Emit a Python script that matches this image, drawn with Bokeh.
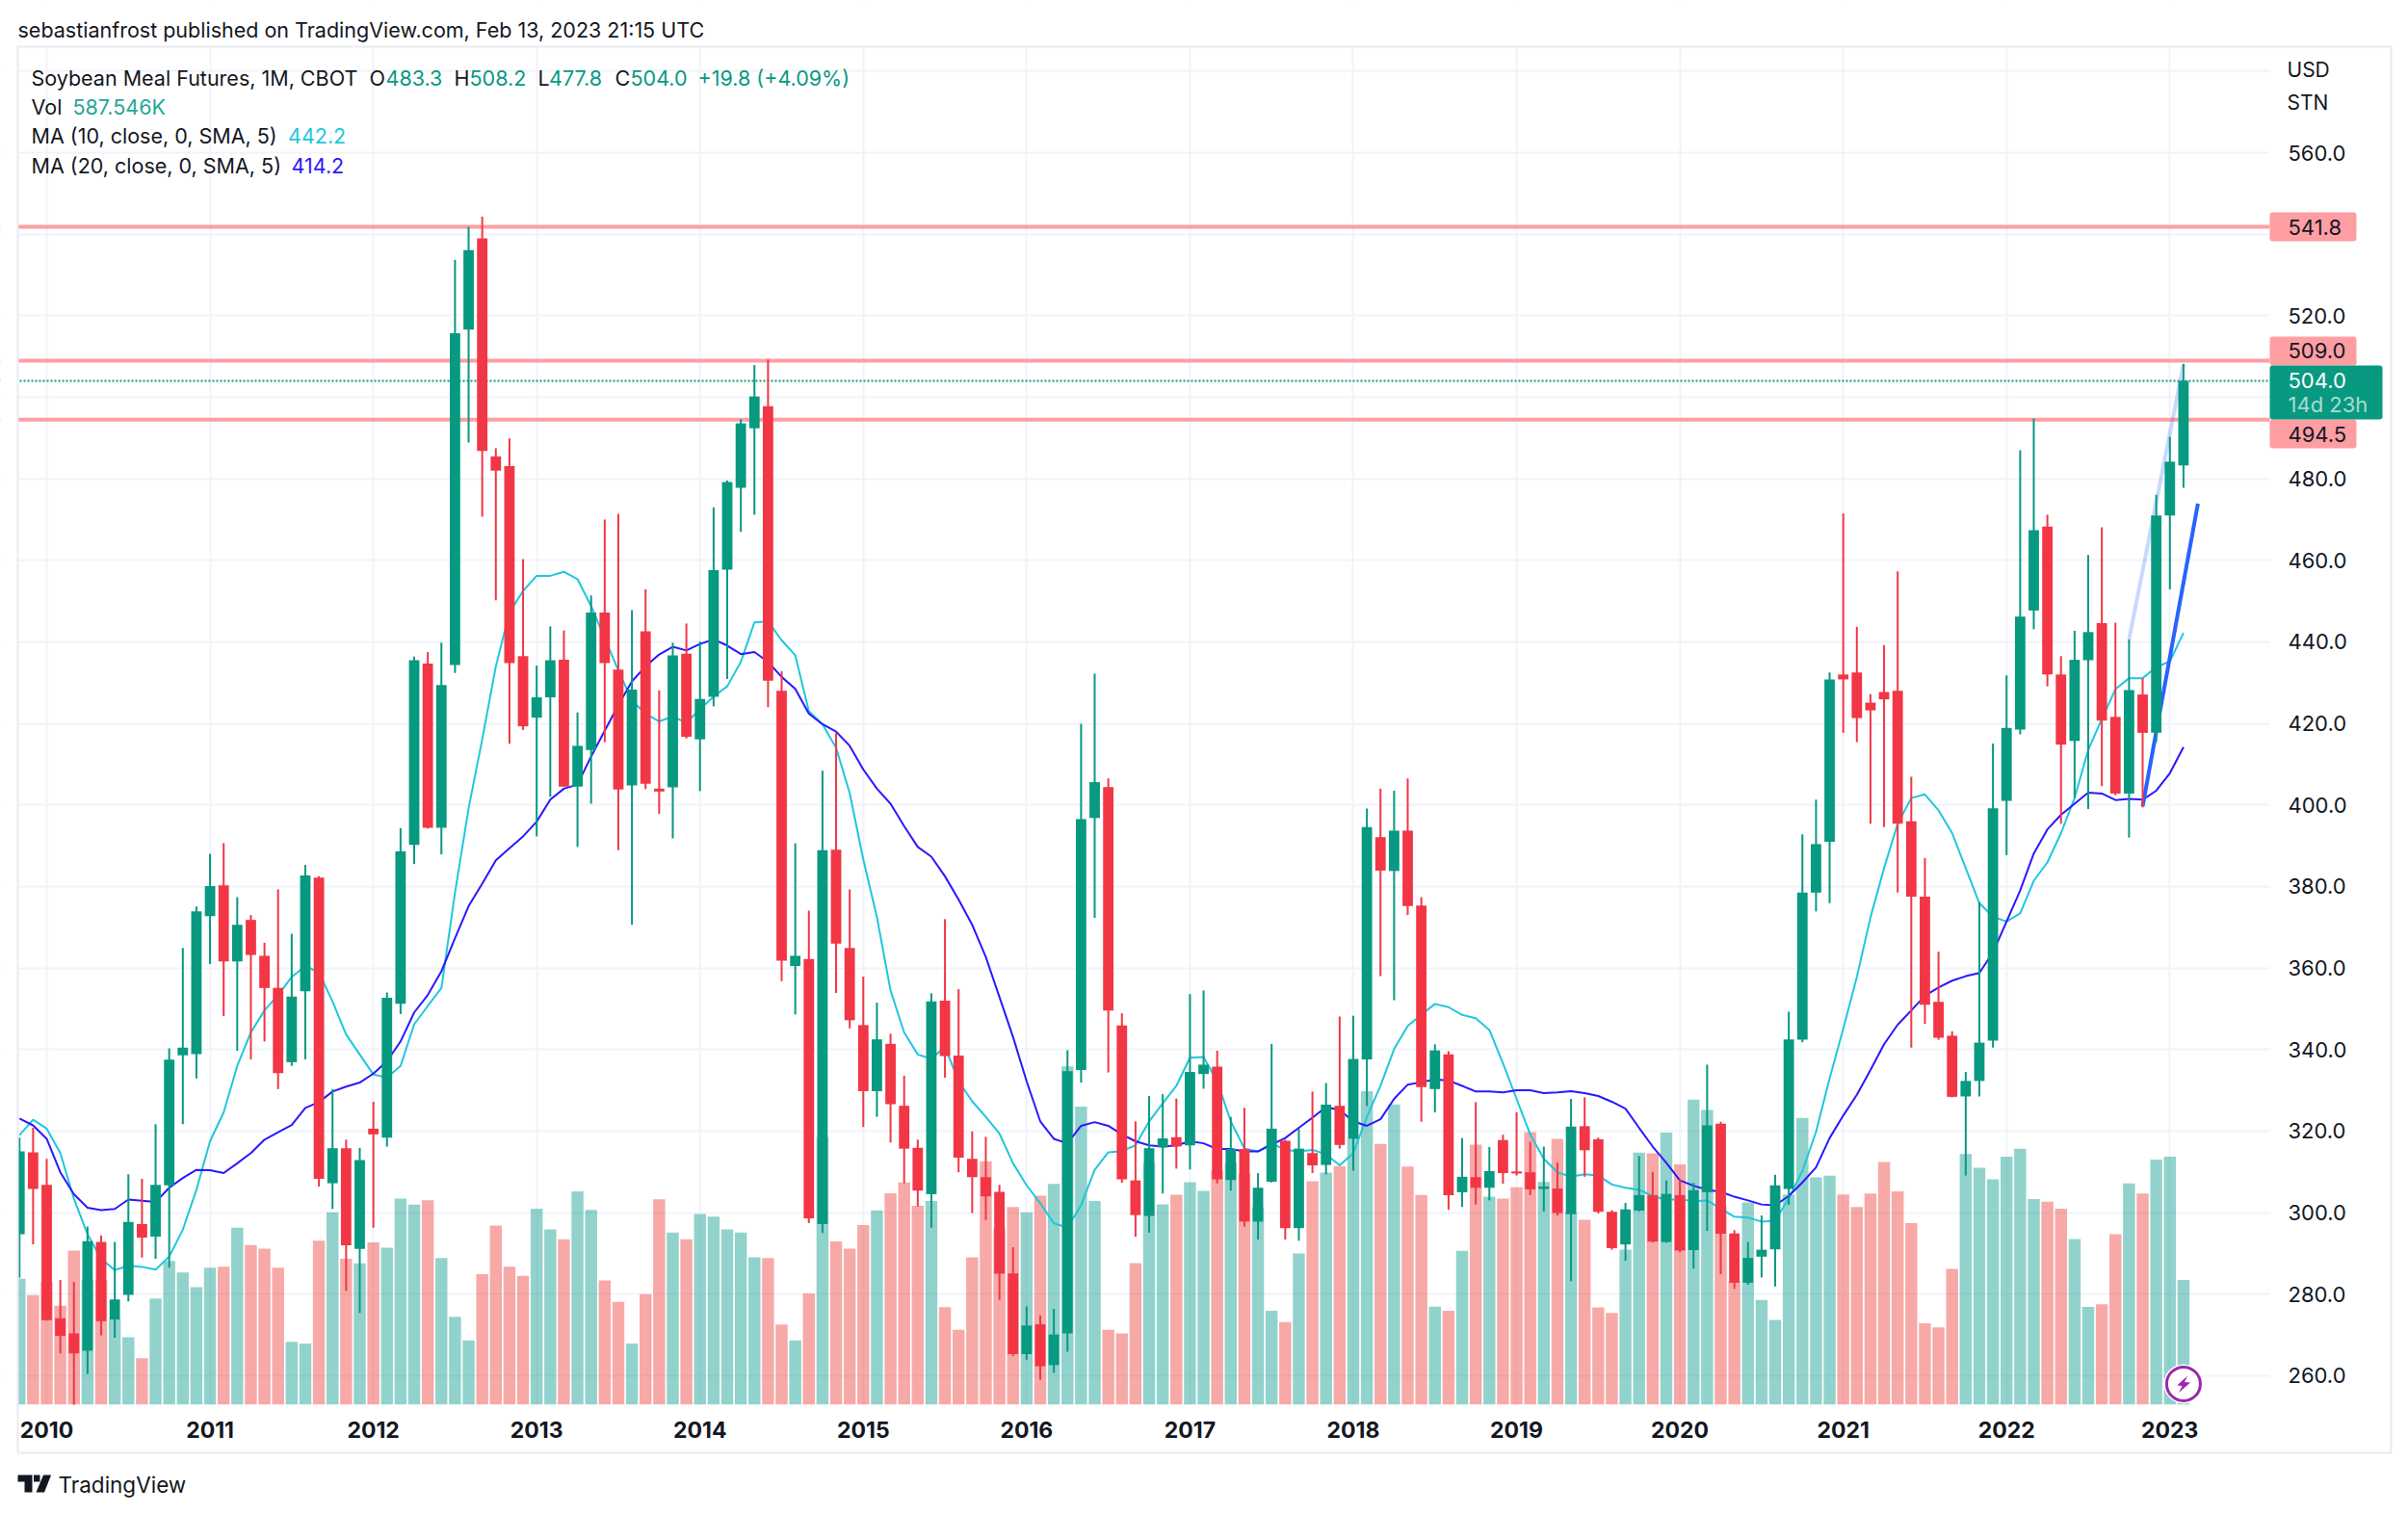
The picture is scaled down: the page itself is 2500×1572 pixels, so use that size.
from bokeh.plotting import figure
from bokeh.embed import file_html
from bokeh.resources import INLINE
from bokeh.models import (Range1d, LinearAxis, FixedTicker, Label, BoxAnnotation, Grid,
                          PolyAnnotation, ColumnDataSource, Span, PrintfTickFormatter)

# Months counted from Jan 2010 = 0; first bar is Nov 2009
months = list(range(-2, 158))

direction = (
    "G R R R R G R G G R "  # -2..7
    "G G G G G R G R R R "  # 8..17
    "G G R G R G R G G G "  # 18..27
    "R G G G R R R R G G "  # 28..37
    "R G G R R G R R G R "  # 38..47
    "G G G G G R R G R G "  # 48..57
    "R R R G R R R G R R "  # 58..67
    "R R R R G R G G G G "  # 68..77
    "R R R G G R G G R G "  # 78..87
    "R G G R G R G R G G "  # 88..97
    "R G R R G R G R G R "  # 98..107
    "R R G R G R R R G G "  # 108..117
    "R G R G G R R G G G "  # 118..127
    "G G G G R R R R R R "  # 128..137
    "R R R G G G G G G R "  # 138..147
    "R G G R R G R G G G"   # 148..157
).split()

body_top = [
    315.0, 314.8, 306.8, 274.1, 270.4, 293.0, 292.8, 278.7, 297.7, 297.2, 306.8, 337.5,
    340.5, 373.9, 380.1, 380.3, 370.6, 371.8, 363.0, 355.1, 353.0, 382.7, 382.2, 315.8,
    315.8, 312.9, 320.6, 352.7, 388.6, 435.5, 434.7, 429.4, 515.7, 536.1, 539.0, 485.5,
    483.1, 436.5, 426.4, 435.5, 435.6, 414.5, 447.2, 447.2, 433.2, 428.3, 442.6, 404.0,
    436.7, 437.1, 426.0, 457.6, 479.2, 493.6, 500.2, 497.8, 428.0, 363.0, 362.2,
    388.9, 389.0, 364.9, 346.0, 342.5, 341.4, 326.2, 315.9, 351.8, 352.0, 338.5, 313.2,
    308.7, 305.1, 285.1, 272.3, 272.6, 270.1, 334.7, 396.5, 405.6, 404.4, 345.9, 307.9,
    315.8, 318.2, 318.5, 334.5, 336.3, 335.8, 315.6, 315.6, 306.1, 320.6, 317.6, 315.7,
    314.6, 326.5, 326.2, 337.7, 394.6, 392.1, 393.7, 393.7, 375.3, 339.8, 338.8, 308.8,
    308.7, 310.2, 317.8, 310.1, 309.9, 306.4, 305.9, 321.1, 321.2,
    318.0, 300.2, 300.8, 304.3, 304.3, 304.6, 304.3, 305.5, 321.4, 321.8, 294.9, 288.9,
    290.9, 306.7, 342.5, 378.5, 390.4, 430.8, 432.0, 432.5, 425.1, 427.7, 428.0, 396.0,
    377.5, 351.7, 343.4, 332.3, 341.7, 399.2, 418.9, 446.2, 467.4, 468.3, 432.0, 435.6,
    442.4, 444.6, 421.6, 428.2, 427.1, 471.0, 484.2, 504.0,
]
body_bottom = [
    294.7, 305.8, 273.6, 269.8, 265.5, 266.1, 273.4, 273.8, 279.8, 293.9, 294.1, 306.7,
    338.6, 338.9, 372.7, 361.6, 361.6, 363.2, 355.1, 334.2, 336.9, 354.3, 308.3, 307.2,
    292.0, 291.1, 319.2, 318.4, 351.2, 390.2, 394.4, 394.4, 434.3, 516.6, 486.8, 482.0,
    434.8, 419.3, 421.4, 426.4, 404.5, 404.5, 413.5, 434.8, 403.8, 404.8, 405.2, 403.3,
    404.3, 416.7, 416.1, 426.5, 457.7, 477.8, 492.4, 430.5, 361.8, 360.5, 298.6,
    297.2, 366.0, 347.2, 329.8, 329.8, 326.6, 315.7, 305.4, 304.5, 338.4, 313.5, 308.7,
    304.0, 285.0, 265.3, 265.3, 262.3, 262.6, 270.4, 335.0, 396.8, 349.6, 308.2, 299.4,
    299.2, 316.0, 316.2, 316.5, 334.0, 308.2, 308.0, 297.8, 297.8, 307.6, 296.2, 296.2,
    311.6, 311.7, 316.6, 318.1, 337.6, 383.9, 383.8, 375.2, 330.8, 330.3, 304.3, 305.0,
    306.1, 306.1, 309.7, 309.6, 305.7, 305.8, 299.9, 299.6, 315.3,
    300.2, 291.3, 292.2, 300.5, 292.9, 292.8, 290.7, 290.8, 305.0, 294.8, 282.8, 282.8,
    289.2, 291.0, 305.8, 342.4, 378.5, 391.0, 430.8, 421.3, 423.2, 425.9, 395.4, 377.5,
    351.0, 342.9, 328.4, 328.5, 332.3, 342.2, 401.0, 418.5, 447.7, 432.0, 414.8, 415.7,
    435.5, 420.7, 402.8, 402.8, 417.7, 417.7, 471.0, 483.3,
]
highs = [
    318.4, 320.8, 313.2, 283.5, 283.0, 296.6, 294.4, 292.8, 309.4, 308.3, 321.7, 340.3,
    364.9, 375.1, 388.0, 390.6, 377.4, 373.0, 366.2, 379.3, 368.4, 385.3, 382.5, 330.3,
    317.9, 315.9, 327.2, 354.0, 394.3, 436.4, 437.5, 439.8, 533.7, 541.8, 544.3, 487.5,
    489.9, 460.3, 434.2, 443.8, 442.8, 422.7, 451.4, 470.0, 471.4, 447.8, 452.9, 428.1,
    439.8, 444.5, 440.1, 473.0, 479.6, 494.6, 507.9, 509.3, 432.8, 390.6, 374.1,
    408.4, 417.7, 379.3, 357.9, 351.5, 343.9, 333.6, 317.9, 353.8, 372.0, 354.8, 319.9,
    318.6, 306.8, 291.5, 277.0, 274.8, 276.4, 339.8, 419.9, 432.2, 406.5, 348.9, 322.4,
    328.6, 329.1, 328.0, 353.6, 354.5, 339.7, 323.5, 325.7, 309.7, 341.4, 317.9, 320.6,
    329.7, 331.8, 348.1, 348.3, 399.1, 404.0, 403.5, 406.5, 377.4, 341.3, 339.6, 318.3,
    327.1, 316.1, 319.1, 324.6, 317.4, 316.2, 312.3, 327.9, 328.3,
    318.4, 300.6, 302.4, 313.9, 310.0, 307.9, 308.1, 307.3, 336.3, 322.3, 295.7, 292.8,
    299.3, 309.3, 349.3, 392.8, 401.3, 432.5, 471.5, 443.7, 427.2, 439.2, 457.3, 406.9,
    387.0, 364.0, 344.5, 334.5, 376.2, 415.1, 431.8, 487.0, 494.8, 471.2, 436.5, 442.7,
    461.3, 468.1, 444.7, 440.6, 431.1, 476.1, 490.3, 508.2,
]
lows = [
    284.0, 292.2, 273.5, 265.5, 252.6, 260.4, 269.9, 269.3, 278.2, 289.0, 288.7, 286.5,
    321.7, 332.9, 361.0, 348.2, 339.7, 337.6, 342.0, 330.3, 336.0, 337.6, 306.4, 300.9,
    280.8, 275.4, 296.3, 316.2, 348.7, 385.5, 394.2, 387.9, 432.4, 488.9, 470.7, 450.2,
    415.0, 418.4, 392.3, 402.0, 404.4, 389.7, 400.3, 415.4, 388.9, 370.6, 403.9, 397.8,
    391.8, 416.3, 403.4, 424.2, 430.9, 467.0, 471.2, 424.0, 356.8, 348.6, 297.4,
    295.0, 353.9, 345.2, 321.0, 323.5, 317.2, 307.2, 301.5, 296.3, 333.1, 309.9, 299.9,
    298.2, 278.6, 264.8, 263.9, 259.0, 260.7, 265.9, 331.9, 372.3, 334.4, 307.3, 294.1,
    295.1, 304.7, 310.8, 310.6, 330.4, 307.2, 305.4, 296.6, 293.4, 307.4, 293.4, 293.1,
    309.7, 309.4, 315.7, 310.3, 326.1, 358.0, 352.1, 373.0, 322.3, 324.6, 300.7, 301.4,
    302.0, 303.0, 307.1, 309.1, 304.3, 300.3, 299.3, 283.2, 308.8,
    299.8, 290.9, 288.2, 300.3, 292.7, 292.6, 290.3, 286.3, 295.5, 284.9, 281.3, 282.3,
    284.1, 281.9, 301.9, 341.8, 373.9, 375.9, 417.7, 415.4, 395.4, 394.6, 378.5, 340.5,
    346.3, 342.4, 328.3, 309.1, 328.5, 340.5, 387.7, 417.3, 443.1, 429.1, 395.4, 401.7,
    399.0, 404.6, 402.4, 392.0, 399.4, 415.4, 452.9, 477.8,
]
volume_k = [
    595, 517, 580, 467, 728, 590, 590, 405, 318, 220, 501, 679, 624, 555, 647, 652,
    836, 754, 737, 647, 297, 289, 775, 909, 689, 668, 767, 742, 974, 945, 966, 693,
    415, 304, 616, 846, 652, 608, 926, 828, 781, 1008, 920, 587, 486, 289, 522, 970,
    813, 781, 901, 888, 828, 813, 696, 693, 379, 304, 526,
    1265, 771, 737, 848, 918, 999, 1050, 939, 962, 461, 354, 696, 1150, 834, 934, 909,
    987, 1043, 1598, 1408, 962, 354, 337, 669, 1142, 946, 992, 1051, 1010, 1106, 1142, 1092,
    933, 444, 390, 714, 1056, 1096, 1127, 1257, 1481, 1232, 1418, 1125, 991, 463, 444, 727,
    1228, 983, 974, 1027, 1288, 1052, 1256, 910, 874,
    460, 433, 733, 1191, 1188, 1285, 1135, 1441, 1392, 937, 582, 955, 495, 400, 993, 1355,
    1074, 1082, 993, 934, 998, 1147, 1008, 858, 384, 365, 642, 1184, 1119, 1065, 1172, 1209,
    971, 959, 926, 782, 462, 474, 805, 1045, 998, 1158, 1172, 589,
]
ma10 = [
    319.0, 322.8, 320.6, 314.6, 303.4, 294.7, 288.7, 285.9, 287.0, 286.7, 286.0, 289.2,
    295.8, 305.6, 317.5, 324.6, 336.0, 344.2, 349.6, 353.4, 357.8, 360.5, 358.9, 351.8,
    343.7, 338.8, 333.9, 333.1, 336.0, 346.2, 350.7, 355.1, 378.5, 399.2, 416.1, 434.0,
    447.2, 452.5, 456.2, 456.2, 457.2, 455.4, 448.8, 440.9, 433.0, 425.6, 422.4, 420.5,
    421.7, 420.1, 423.5, 426.6, 429.1, 435.1, 444.8, 445.0, 440.4, 436.7, 423.0,
    419.8, 414.0, 402.9, 386.6, 372.5, 354.5, 344.2, 338.8, 337.7, 340.7, 332.2, 327.3,
    323.5, 319.4, 312.1, 306.7, 302.3, 297.4, 296.3, 301.8, 310.5, 314.8, 315.1, 316.5,
    322.4, 326.8, 331.1, 338.0, 338.2, 332.2, 322.4, 315.7, 315.0, 317.0, 315.4, 315.0,
    315.4, 314.3, 311.6, 314.6, 323.5, 331.1, 340.1, 345.8, 348.5, 351.2, 350.4, 348.5,
    347.7, 344.8, 336.6, 327.9, 319.2, 313.2, 309.9, 308.8, 309.4,
    309.1, 306.9, 306.1, 305.6, 304.1, 303.1, 303.3, 302.8, 303.0, 301.0, 299.0, 298.8,
    297.8, 298.0, 303.5, 310.2, 319.8, 332.9, 345.1, 357.8, 372.4, 384.5, 395.4, 401.7,
    402.6, 398.7, 393.1, 384.5, 375.9, 372.6, 371.4, 373.4, 381.4, 385.9, 393.1, 401.7,
    413.5, 421.1, 428.4, 431.1, 431.1, 433.8, 435.2, 442.2,
]
ma20 = [
    323.1, 321.4, 318.1, 309.9, 304.5, 301.2, 300.6, 300.9, 303.2, 302.9, 302.6, 306.1,
    308.5, 310.5, 310.4, 309.7, 312.1, 314.6, 317.9, 319.7, 321.5, 325.7, 327.1, 329.7,
    330.9, 331.9, 334.1, 337.1, 342.0, 349.1, 353.4, 359.2, 367.3, 375.2, 380.7, 386.4,
    389.4, 392.3, 395.9, 401.3, 404.0, 405.0, 411.9, 418.2, 424.5, 430.3, 434.0, 436.9,
    438.8, 437.9, 439.5, 440.6, 439.1, 437.0, 437.5, 435.1, 431.4, 428.5, 422.4,
    419.8, 418.0, 414.5, 408.7, 404.0, 400.3, 394.8, 389.7, 387.3, 382.5, 376.8, 370.6,
    362.7, 352.9, 343.1, 332.2, 322.4, 318.1, 317.0, 321.3, 322.2, 321.3, 319.2, 317.5,
    316.5, 316.2, 316.5, 317.5, 317.0, 315.6, 315.6, 315.0, 315.0, 316.7, 318.3, 320.8,
    323.3, 325.9, 325.2, 322.4, 321.3, 322.9, 327.9, 331.4, 332.0, 332.7, 332.4, 331.1,
    329.7, 329.7, 329.5, 330.0, 330.0, 329.3, 329.5, 329.8, 329.3,
    328.6, 327.2, 325.5, 320.8, 316.2, 312.2, 307.9, 306.6, 305.6, 305.1, 303.9, 303.0,
    302.0, 301.8, 304.1, 307.4, 311.1, 318.3, 323.8, 328.9, 335.0, 341.3, 346.1, 349.6,
    353.2, 355.2, 356.9, 358.0, 358.8, 363.8, 371.4, 379.0, 388.1, 394.0, 397.6, 400.3,
    403.0, 402.8, 401.2, 401.5, 401.3, 403.5, 407.8, 414.2,
]
for name, arr in [("dir", direction), ("top", body_top), ("bot", body_bottom), ("hi", highs),
                  ("lo", lows), ("vol", volume_k), ("ma10", ma10), ("ma20", ma20)]:
    assert len(arr) == len(months), (name, len(arr))

levels = [541.8, 509.0, 494.5]
last_close = 504.0
trend_dark_x, trend_dark_y = [154, 158.06], [399.7, 473.9]
trend_light_x, trend_light_y = [153, 157], [440.6, 508.0]
price_ticks = [560, 520, 480, 460, 440, 420, 400, 380, 360, 340, 320, 300, 280, 260]
grid_ticks = [580, 560, 540, 520, 500, 480, 460, 440, 420, 400, 380, 360, 340, 320, 300, 280, 260]
year_ticks = {(y - 2010) * 12: str(y) for y in range(2010, 2024)}

GREEN, RED = "#089981", "#f23645"
FONT = "Inter"
INK = "#131722"

# The frame fills the whole canvas; panes are cut out with white masks.
p = figure(width=2484, height=1556, output_backend="svg", toolbar_location=None,
           x_range=Range1d(-3.397, 172.399), y_range=Range1d(229.74, 597.33),
           x_axis_location=None, y_axis_location=None, min_border=0,
           background_fill_color="white", border_fill_color="white", outline_line_color=None)
p.extra_y_ranges = {"vol": Range1d(-446, 6634)}
p.xgrid.visible = False
p.ygrid.visible = False

ax = LinearAxis(fixed_location=163.34, ticker=FixedTicker(ticks=price_ticks),
                formatter=PrintfTickFormatter(format="%.1f"))
ax.axis_line_color = None
ax.major_tick_line_color = None
ax.minor_tick_line_color = None
ax.major_tick_in = ax.major_tick_out = 0
ax.major_label_standoff = 19
ax.major_label_text_font = FONT
ax.major_label_text_font_size = "22px"
ax.major_label_text_color = INK
p.add_layout(ax, "right")

xa = LinearAxis(fixed_location=252.9, ticker=FixedTicker(ticks=list(year_ticks)))
xa.major_label_overrides = year_ticks
xa.axis_line_color = None
xa.major_tick_line_color = None
xa.minor_tick_line_color = None
xa.major_tick_in = xa.major_tick_out = 0
xa.major_label_standoff = 18
xa.major_label_text_font = FONT
xa.major_label_text_font_size = "23px"
xa.major_label_text_font_style = "bold"
xa.major_label_text_color = INK
p.add_layout(xa, "below")

for dim, ticks in [(0, list(year_ticks)), (1, grid_ticks)]:
    p.add_layout(Grid(dimension=dim, ticker=FixedTicker(ticks=ticks), grid_line_color="#f0f3fa",
                      grid_line_width=2))

src = ColumnDataSource(dict(
    x=months, top=body_top, bottom=body_bottom, hi=highs, lo=lows, vol=volume_k,
    zero=[0] * len(months),
    ccol=[GREEN if d == "G" else RED for d in direction],
    vcol=["#26a69a" if d == "G" else "#ef5350" for d in direction],
    ma10=ma10, ma20=ma20,
))

p.vbar(x="x", bottom="zero", top="vol", width=0.88, fill_color="vcol", fill_alpha=0.5,
       line_color=None, y_range_name="vol", source=src)
p.line("x", "ma10", source=src, line_color="#1fc7dd", line_width=2)
p.line("x", "ma20", source=src, line_color="#2a18ff", line_width=2)
for lv in levels:
    p.add_layout(Span(location=lv, dimension="width", line_color="#ff9ea2", line_width=4, level="underlay"))
p.add_layout(Span(location=last_close, dimension="width", line_color=GREEN, line_width=2,
                  line_dash="2 2", level="underlay"))
p.line(trend_light_x, trend_light_y, line_color="#2962ff", line_alpha=0.25, line_width=4)
p.line(trend_dark_x, trend_dark_y, line_color="#2962ff", line_width=4)
p.segment("x", "lo", "x", "hi", source=src, line_color="ccol", line_width=2)
p.vbar(x="x", bottom="bottom", top="top", width=0.765, fill_color="ccol", line_color=None, source=src)

# lightning badge
p.scatter([157], [258], marker="circle", size=41, fill_color="white", line_color=None)
p.scatter([157], [258], marker="circle", size=35, fill_color="white", line_color="#9c27b0", line_width=3)


def lab(x, y, text, color=INK, size="21.5px", weight="normal", align="left"):
    p.add_layout(Label(x=x, y=y, x_units="canvas", y_units="canvas", text=text,
                       text_font=FONT, text_font_size=size, text_color=color,
                       text_font_style=weight, text_align=align, text_baseline="middle",
                       level="overlay"))


def box(l, r, t, b, fill=None, line=None, radius=0, level="overlay"):
    p.add_layout(BoxAnnotation(left=l, right=r, top=t, bottom=b,
                               left_units="canvas", right_units="canvas", top_units="canvas",
                               bottom_units="canvas", fill_color=fill, fill_alpha=1 if fill else 0,
                               line_color=line, line_width=2 if line else 0, line_alpha=1 if line else 0,
                               border_radius=radius, level=level, editable=False))


def poly(pts, color):
    p.add_layout(PolyAnnotation(xs=[a for a, _ in pts], ys=[b for _, b in pts],
                                xs_units="canvas", ys_units="canvas", fill_color=color, fill_alpha=1,
                                line_color=None, level="overlay"))


# white masks around the price pane (below the axes' labels)
for l, r, t, b in [(0, 18, 0, 1556), (2356, 2484, 0, 1556), (0, 2484, 0, 48), (0, 2484, 1458, 1556)]:
    box(l, r, t, b, fill="white", level="glyph")

box(18, 2482, 48, 1508, line="#e9ebf2")

lab(18, 30.5, "sebastianfrost published on TradingView.com, Feb 13, 2023 21:15 UTC")
lab(32, 80, "Soybean Meal Futures, 1M, CBOT")
for x, t, c in [(383, "O", INK), (400, "483.3", GREEN), (471, "H", INK), (487, "508.2", GREEN),
                (558, "L", INK), (569.5, "477.8", GREEN), (638, "C", INK), (654, "504.0", GREEN),
                (724, "+19.8 (+4.09%)", GREEN)]:
    lab(x, 80, t, c)
lab(32, 110, "Vol")
lab(75, 110, "587.546K", "#26a69a")
lab(32, 140, "MA (10, close, 0, SMA, 5)")
lab(298.5, 140, "442.2", "#1fc7dd")
lab(32, 171, "MA (20, close, 0, SMA, 5)")
lab(302, 171, "414.2", "#2a18ff")

lab(2374, 72, "USD", size="21px")
lab(2374, 106, "STN", size="21px")

PINK = "#ff9ea2"
box(2356, 2446, 220, 250, PINK, radius=3)
lab(2375, 235, "541.8", size="22px")
box(2356, 2446, 349, 379, PINK, radius=3)
lab(2375, 363.5, "509.0", size="22px")
box(2356, 2446, 435, 465, PINK, radius=3)
lab(2375, 450, "494.5", size="22px")
box(2356, 2473, 379, 435, GREEN, radius=3)
lab(2375, 394.5, "504.0", "#ffffff", size="22px")
lab(2375, 419, "14d 23h", "#a8dccf", size="22px")

# bolt of the badge
poly([(2270.6, 1428), (2259.7, 1438), (2265, 1438.5), (2261.5, 1445.4), (2273.5, 1435), (2267.5, 1434.6)], "#9c27b0")

# TradingView logo
poly([(18, 1531), (33, 1531), (33, 1549), (25, 1549), (25, 1538), (18, 1538)], INK)
poly([(34.5, 1531), (41, 1531), (41, 1538), (34.5, 1538)], INK)
poly([(44.5, 1531), (52.6, 1531), (45.5, 1549), (37, 1549)], INK)
lab(60, 1540.5, "TradingView", size="22.5px")

open("out.html", "w").write(file_html(p, INLINE))
